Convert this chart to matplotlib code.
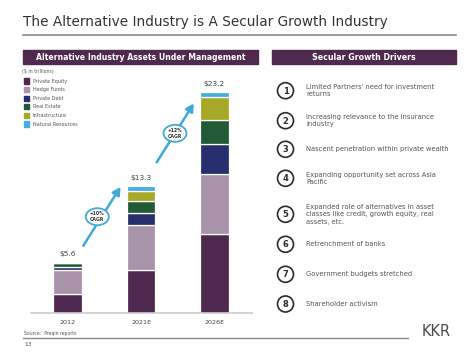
import numpy as np
import matplotlib
matplotlib.use("Agg")
import matplotlib.pyplot as plt
from matplotlib.patches import Rectangle, Circle, Ellipse

# --- data ---
years = ["2012", "2021E", "2026E"]
totals_text = ["$5.6", "$13.3", "$23.2"]
series_names = ["Private Equity", "Hedge Funds", "Private Debt",
                "Real Estate", "Infrastructure", "Natural Resources"]
series_colors = ["#4F2850", "#A893A8", "#262E6E", "#235A36", "#A6A827", "#44AEDF"]
private_equity = [2.0, 4.5, 8.3]
hedge_funds = [2.5, 4.7, 6.3]
private_debt = [0.3, 1.3, 3.1]
real_estate = [0.5, 1.3, 2.6]
infrastructure = [0.0, 1.0, 2.4]
natural_resources = [0.0, 0.5, 0.5]
cagr_labels = ["+10%\nCAGR", "+12%\nCAGR"]

drivers = [
    "Limited Partners' need for investment\nreturns",
    "Increasing relevance to the insurance\nindustry",
    "Nascent penetration within private wealth",
    "Expanding opportunity set across Asia\nPacific",
    "Expanded role of alternatives in asset\nclasses like credit, growth equity, real\nassets, etc.",
    "Retrenchment of banks",
    "Government budgets stretched",
    "Shareholder activism",
]

W, H = 474, 352
PURPLE = "#4E2A4E"
BLUE = "#3EAAD8"

fig = plt.figure(figsize=(W / 100, H / 100), dpi=100)
fig.patch.set_facecolor("white")

# overlay in pixel coords for slide furniture
ov = fig.add_axes([0, 0, 1, 1])
ov.set_xlim(0, W)
ov.set_ylim(H, 0)
ov.axis("off")

ov.text(23, 22, "The Alternative Industry is A Secular Growth Industry",
        fontsize=9.8, color="#333333", va="center", ha="left")
ov.plot([23, 456], [35, 35], color="#8a8a8a", lw=1.2)

ov.add_patch(Rectangle((23, 50), 235, 14, color=PURPLE))
ov.text(140.5, 57, "Alternative Industry Assets Under Management", color="white",
        fontsize=5.6, fontweight="bold", ha="center", va="center")
ov.add_patch(Rectangle((272, 50), 184, 14, color=PURPLE))
ov.text(364, 57, "Secular Growth Drivers", color="white",
        fontsize=5.7, fontweight="bold", ha="center", va="center")

ov.text(22, 71, "($ in trillions)", fontsize=3.4, color="#555555", va="center")

# legend
for i, (name, col) in enumerate(zip(series_names, series_colors)):
    y = 81 + i * 8.6
    ov.add_patch(Rectangle((24, y - 2.6), 5.2, 5.2, color=col))
    ov.text(33, y, name, fontsize=3.5, color="#555555", va="center")

# drivers list
circle_y = [90.7, 120.7, 149.3, 178.3, 214.3, 244.3, 274.3, 304]
for i, (txt, cy) in enumerate(zip(drivers, circle_y)):
    ov.add_patch(Circle((285.5, cy), 8, fill=False, ec="#2b2b2b", lw=1.2))
    ov.text(285.5, cy + 0.3, str(i + 1), fontsize=6, fontweight="bold",
            color="#2b2b2b", ha="center", va="center")
    ov.text(306.5, cy, txt, fontsize=4.85, color="#555555", va="center",
            linespacing=1.3)

# footer
ov.text(24, 333, "Source:  Preqin reports", fontsize=3.3, color="#555555", va="center")
ov.plot([23, 408], [337.5, 337.5], color="#8a8a8a", lw=1)
ov.text(24, 344.5, "13", fontsize=4.2, color="#555555", va="center")
ov.text(436, 332, "KKR", fontsize=10.5, color="#4a4a4a", ha="center", va="center")

# CAGR arrows and bubbles
arrows = [((83.3, 245.7), (120.5, 187)), ((156.7, 162.3), (193.8, 103.5))]
bubbles = [(97.3, 216.7), (175, 133.3)]
for (p0, p1), (bx, by), lab in zip(arrows, bubbles, cagr_labels):
    ov.annotate("", xy=p1, xytext=p0,
                arrowprops=dict(arrowstyle="-|>,head_length=0.45,head_width=0.25",
                                color=BLUE, lw=1.8, shrinkA=0, shrinkB=0))
    ov.add_patch(Ellipse((bx, by), 23, 17, fc="white", ec=BLUE, lw=1.3, zorder=3))
    ov.text(bx, by, lab, fontsize=3.3, fontweight="bold", color="#333333",
            ha="center", va="center", linespacing=1.15, zorder=4)

# bar chart
ax = fig.add_axes([31 / W, (H - 313) / H, 221 / W, 233 / H])
ax.patch.set_alpha(0)
x = np.arange(len(years))
stack = [private_equity, hedge_funds, private_debt, real_estate,
         infrastructure, natural_resources]
bottom = np.zeros(len(years))
for vals, col in zip(stack, series_colors):
    vals = np.array(vals)
    ax.bar(x, vals, bottom=bottom, width=0.39, color=col,
           edgecolor="white", linewidth=0.9)
    bottom += vals

for xi, top, lab in zip(x, bottom, totals_text):
    ax.annotate(lab, (xi, top), xytext=(0, 6.0), textcoords="offset points",
                ha="center", va="center", fontsize=5.4, color="#444444")

ax.set_xlim(-0.5, 2.51)
ax.set_ylim(0, 233 / (221 / 23.2))
ax.set_xticks(x)
ax.set_xticklabels(years, fontsize=4.6, color="#444444")
ax.tick_params(axis="x", length=0, pad=5)
ax.set_yticks([])
for s in ["top", "left", "right"]:
    ax.spines[s].set_visible(False)
ax.spines["bottom"].set_color("#cccccc")
ax.spines["bottom"].set_linewidth(1.2)

fig.savefig("out.png", dpi=100, facecolor="white")
